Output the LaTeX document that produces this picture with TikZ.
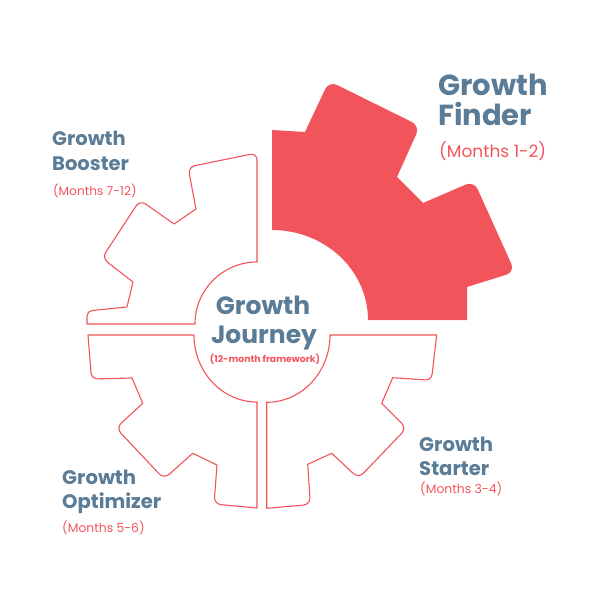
\documentclass[tikz,border=0pt]{standalone}
\usepackage{fontspec}
\setmainfont{Poppins}
\definecolor{gblue}{HTML}{5B7C96}
\definecolor{gred}{HTML}{F2545B}
\tikzset{
  piece/.style={draw=gred, line width=1.1pt, line join=round, fill=white},
  hot/.style={fill=gred},
  ttl/.style={inner sep=0pt, anchor=base west, text=gblue, font=\fontsize{#1}{#1}\selectfont\bfseries},
  mon/.style={inner sep=0pt, anchor=base west, text=gred, font=\fontsize{#1}{#1}\selectfont},
  ctr/.style={inner sep=0pt, anchor=base, text=gblue, font=\fontsize{#1}{#1}\selectfont\bfseries}
}
\begin{document}
\begin{tikzpicture}[x=1pt,y=-1pt]
\useasboundingbox (0,0) rectangle (600,600);
% highlighted quadrant (top right)
\path[hot] (368,320) arc[start angle=0,end angle=-90,x radius=96,y radius=90]
  -- (272,130) -- (305,132) [rounded corners=9]-- (329,81) -- (420,126)
  [sharp corners]-- (397,177) -- (423,203) [rounded corners=9]-- (474,181) -- (515,272)
  [sharp corners]-- (467,287) -- (467,320) -- cycle;
% top left quadrant
\draw[piece] (87,324) -- (195,324) arc[start angle=180,end angle=270,radius=62]
  [rounded corners=7]-- (257,153) -- (188,167) [sharp corners]-- (196,209) -- (174,224)
  [rounded corners=7]-- (140,200) -- (102,258) [sharp corners]-- (133,282) -- (127,307)
  [rounded corners=5]-- (87,311) [sharp corners]-- cycle;
% bottom left quadrant
\draw[piece] (257,508) -- (257,402) arc[start angle=90,end angle=180,x radius=63,y radius=67]
  -- (88,335) [rounded corners=6]-- (91.5,379) [sharp corners]-- (132,378) -- (142.7,403.3)
  [rounded corners=7]-- (116,428) -- (164,479) [sharp corners]-- (192.7,453.3) -- (217,465)
  [rounded corners=7]-- (214,504) [sharp corners]-- cycle;
% bottom right quadrant
\draw[piece] (266.7,508.3) -- (266.7,402.3) arc[start angle=90,end angle=0,x radius=63.3,y radius=67.3]
  -- (436.7,335) [rounded corners=6]-- (431.4,380.3) [sharp corners]-- (392.7,377.7) -- (381.7,403.3)
  [rounded corners=7]-- (406.6,428.2) -- (358.5,478.3) [sharp corners]-- (331.7,453.3) -- (307.7,464.3)
  [rounded corners=7]-- (310.4,504.5) [sharp corners]-- cycle;
% labels
\node[ttl=29] (f1) at (438,95) {Growth};
\node[ttl=29] (f2) at (438,125) {Finder};
\node[mon=17] (f3) at (439,157) {(Months 1-2)};
\node[ttl=19.5] (b1) at (52,145) {Growth};
\node[ttl=19.5] (b2) at (52,170) {Booster};
\node[mon=12.2] (b3) at (53,195) {(Months 7-12)};
\node[ttl=19.6] (s1) at (419,451.7) {Growth};
\node[ttl=19.6] (s2) at (419,475) {Starter};
\node[mon=12.4] (s3) at (420,493) {(Months 3-4)};
\node[ttl=19.6] (o1) at (62,484.7) {Growth};
\node[ttl=19.6] (o2) at (62,508) {Optimizer};
\node[mon=12.4] (o3) at (62,532) {(Months 5-6)};
\node[ctr=25] (j1) at (263,314) {Growth};
\node[ctr=25] (j2) at (264,343.3) {Journey};
\node[ctr=9.3, text=gred] (j3) at (265,362.7) {(12-month framework)};
\end{tikzpicture}
\end{document}
